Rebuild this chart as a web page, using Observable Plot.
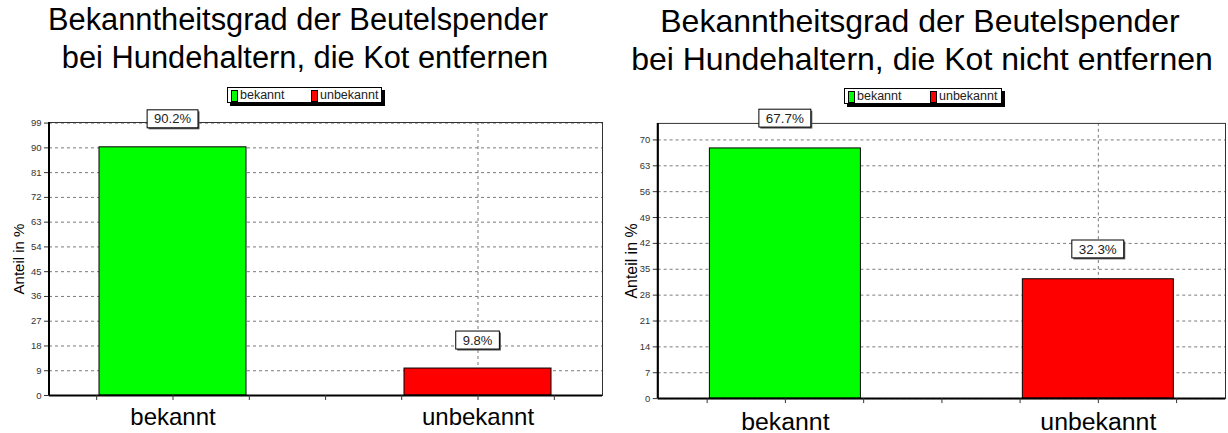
<!DOCTYPE html>
<html><head><meta charset="utf-8">
<script src="https://cdn.jsdelivr.net/npm/d3@7"></script>
<script src="https://cdn.jsdelivr.net/npm/@observablehq/plot@0.6"></script>
<style>
html,body{margin:0;padding:0;background:#fff;overflow:hidden;width:1228px;height:433px;}
body{position:relative;font-family:"Liberation Sans",Arial,sans-serif;}
.title{position:absolute;width:800px;text-align:center;color:#000;white-space:nowrap;line-height:38px;}
.legend{position:absolute;box-sizing:border-box;border:1px solid #000;background:#fff;box-shadow:3px 3px 0 #000;font-size:12.5px;color:#222;}
.legend .sw{position:absolute;top:2px;width:5px;height:10px;border:1px solid #000;}
.legend .lt{position:absolute;top:0px;line-height:14px;}
.chart{position:absolute;}
</style>
</head><body>
<div id="root"></div>
<script>
// ---- data ----
const categories = ["bekannt", "unbekannt"];
const colors = ["#00ff00", "#ff0000"];
const valuesLeft = [90.2, 9.8];    // Hundehalter, die Kot entfernen
const valuesRight = [67.7, 32.3];  // Hundehalter, die Kot nicht entfernen
const titleLeft = ["Bekanntheitsgrad der Beutelspender", "bei Hundehaltern, die Kot entfernen"];
const titleRight = ["Bekanntheitsgrad der Beutelspender", "bei Hundehaltern, die Kot nicht entfernen"];
const yTicksLeft = [0, 9, 18, 27, 36, 45, 54, 63, 72, 81, 90, 99];
const yTicksRight = [0, 7, 14, 21, 28, 35, 42, 49, 56, 63, 70];
const yMaxLeft = 99.22;
const yMaxRight = 74.47;
const yLabel = "Anteil in %";

const FONT = '"Liberation Sans", Arial, sans-serif';
const root = document.getElementById("root");

function measure(text, size) {
  const c = document.createElement("canvas").getContext("2d");
  c.font = `${size}px "Liberation Sans"`;
  return c.measureText(text).width;
}

function panel(cfg) {
  // title, one line per element, each centred on its own x
  cfg.title.forEach((line, k) => {
    const t = document.createElement("div");
    t.className = "title";
    t.style.left = (cfg.titleCenters[k] - 400) + "px";
    t.style.top = (cfg.titleTop + 38 * k) + "px";
    t.style.fontSize = cfg.titleSize + "px";
    t.textContent = line;
    root.appendChild(t);
  });

  // legend
  const lg = document.createElement("div");
  lg.className = "legend";
  Object.assign(lg.style, {left: cfg.legend[0] + "px", top: cfg.legend[1] + "px", width: cfg.legend[2] + "px", height: cfg.legend[3] + "px"});
  categories.forEach((c, i) => {
    const sw = document.createElement("div");
    sw.className = "sw";
    sw.style.left = (3 + i * cfg.legendStep) + "px";
    sw.style.background = colors[i];
    lg.appendChild(sw);
    const tx = document.createElement("div");
    tx.className = "lt";
    tx.style.left = (12 + i * cfg.legendStep) + "px";
    tx.textContent = c;
    lg.appendChild(tx);
  });
  root.appendChild(lg);

  const data = categories.map((c, i) => ({cat: c, val: cfg.values[i]}));
  const pi = 0.518, po = 0.165;
  const plotW = cfg.width - cfg.ml - cfg.mr;
  const step = plotW / (categories.length - pi + 2 * po);
  const bw = step * (1 - pi);
  const q = step / 4;
  const grid = {stroke: "#7a7a7a", strokeOpacity: 1, strokeDasharray: "3,3", strokeWidth: 1};

  const labels = Plot.text(data, {
    x: "cat", y: "val", text: d => d.val.toFixed(1) + "%",
    render(index, scales, values) {
      const X = values.x, Y = values.y;
      const g = d3.create("svg:g");
      for (const i of index) {
        const s = data[i].val.toFixed(1) + "%";
        const w = measure(s, cfg.labelSize) + 14;
        const h = 18;
        const cx = X[i] + bw / 2, cy = Y[i] - cfg.labelOff;
        g.append("rect").attr("x", cx - w / 2 + 1.5).attr("y", cy - h / 2 + 1.5).attr("width", w).attr("height", h).attr("fill", "#555");
        g.append("rect").attr("x", cx - w / 2).attr("y", cy - h / 2).attr("width", w).attr("height", h).attr("fill", "#fff").attr("stroke", "#000");
        g.append("text").attr("x", cx).attr("y", cy).attr("dy", "0.36em").attr("text-anchor", "middle")
          .attr("font-size", cfg.labelSize).attr("font-family", FONT).attr("fill", "#222").text(s);
      }
      return g.node();
    }
  });

  const svg = Plot.plot({
    width: cfg.width, height: cfg.height,
    marginLeft: cfg.ml, marginRight: cfg.mr, marginTop: cfg.mt, marginBottom: cfg.mb,
    style: {fontFamily: FONT, background: "transparent", overflow: "visible"},
    x: {domain: categories, paddingInner: pi, paddingOuter: po, label: null},
    y: {domain: [0, cfg.yMax], label: null},
    color: {domain: categories, range: colors},
    marks: [
      Plot.gridY(cfg.ticks, grid),
      Plot.gridX([categories[1]], grid),
      Plot.barY(data, {x: "cat", y: "val", fill: "cat", stroke: "#000", strokeWidth: 1}),
      Plot.frame({stroke: "#333", strokeWidth: 1}),
      Plot.ruleY([0], {stroke: "#000", strokeWidth: 2}),
      Plot.axisY(cfg.ticks, {tickSize: 5, tickPadding: 3, fontSize: 9.5, fill: "#333", stroke: "#333", label: null}),
      Plot.axisX({tickSize: 5, tickPadding: cfg.xPad, fontSize: cfg.xSize, fill: "#000", stroke: "#333", label: null}),
      Plot.axisX({tickSize: 5, text: null, dx: -q, stroke: "#333", label: null}),
      Plot.axisX({tickSize: 5, text: null, dx: q, stroke: "#333", label: null}),
      Plot.axisX([categories[0]], {tickSize: 5, text: null, dx: 2 * q, stroke: "#333", label: null}),
      Plot.text([yLabel], {text: d => d, frameAnchor: "left", textAnchor: "middle", rotate: -90, dx: -cfg.yLabelOff, fontSize: cfg.yLabelSize, fill: "#000"}),
      labels
    ]
  });
  const wrap = document.createElement("div");
  wrap.className = "chart";
  wrap.style.left = cfg.left + "px";
  wrap.style.top = cfg.top + "px";
  wrap.appendChild(svg);
  root.appendChild(wrap);
  // thick left edge of the frame
  d3.select(svg).append("line")
    .attr("x1", cfg.ml).attr("x2", cfg.ml).attr("y1", cfg.mt).attr("y2", cfg.height - cfg.mb)
    .attr("stroke", "#000").attr("stroke-width", 2);
}

panel({
  title: titleLeft, titleCenters: [298, 305], titleTop: 1, titleSize: 30.8,
  legend: [227, 87, 155, 16], legendStep: 80,
  values: valuesLeft, ticks: yTicksLeft, yMax: yMaxLeft,
  left: 0, top: 110, width: 615, height: 323, ml: 49, mr: 13, mt: 12, mb: 38,
  xPad: 7, xSize: 24, labelSize: 13, labelOff: 28, yLabelOff: 30, yLabelSize: 15
});
panel({
  title: titleRight, titleCenters: [920, 922], titleTop: 2, titleSize: 32,
  legend: [844, 88, 158, 16], legendStep: 82,
  values: valuesRight, ticks: yTicksRight, yMax: yMaxRight,
  left: 615, top: 110, width: 617, height: 323, ml: 43, mr: 3, mt: 13, mb: 33,
  xPad: 9, xSize: 25, labelSize: 13.5, labelOff: 30, yLabelOff: 26, yLabelSize: 16
});
</script>
</body></html>
